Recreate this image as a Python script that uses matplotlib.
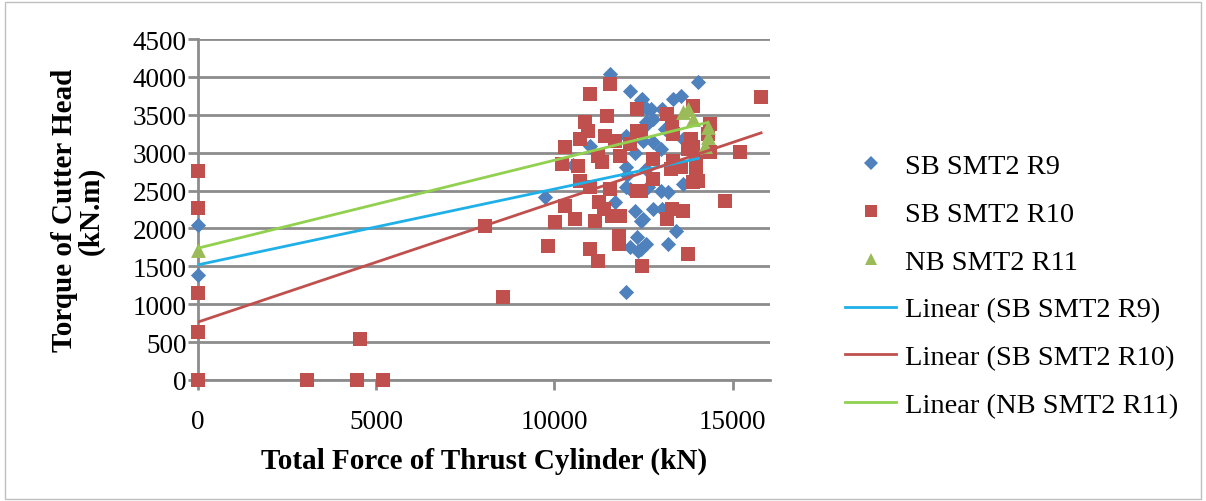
import numpy as np
import matplotlib

matplotlib.use("Agg")
import matplotlib.pyplot as plt
from matplotlib.lines import Line2D
from matplotlib.patches import Rectangle

# SB SMT2 R9 (blue diamonds)
r9_x = [0, 0, 9750, 11570, 12130, 12420, 12610, 12560, 12000, 11010, 10530, 12000,
        14040, 13340, 13540, 12470, 12700, 13030, 12780, 12610, 13230, 12500, 12780,
        12980, 13600, 13090, 12560, 12000, 12130, 11710, 12270, 12420, 12330, 12130,
        12360, 12560, 12640, 12980, 13200, 13620, 12780, 13030, 12500, 13400, 13200,
        12420, 12000, 12250, 12050]
r9_y = [2040, 1390, 2415, 4035, 3810, 3690, 3575, 3400, 3220, 3085, 2835, 2810,
        3930, 3705, 3745, 3705, 3575, 3575, 3445, 3375, 3350, 3155, 3140,
        3050, 3180, 3310, 2780, 2545, 2520, 2350, 2230, 2100, 1885, 1755,
        1700, 1795, 2545, 2495, 2480, 2585, 2255, 2255, 2125, 1965, 1795,
        1730, 1160, 3000, 2700]

# SB SMT2 R10 (red squares)
r10_x = [0, 0, 0, 0, 0, 3050, 4450, 5200, 4550, 8060, 8570, 9830, 10030, 10670,
         11350, 10730, 11010, 11570, 12330, 10310, 11240, 11380, 10590, 11150, 11630,
         11850, 11800, 11010, 11210, 12470, 11570, 11010, 12330, 11490, 10870, 10930,
         11430, 12330, 10730, 11710, 10310, 11210, 11850, 12130, 10220, 15800, 13880,
         13170, 13310, 14380, 13340, 13820, 14300, 13740, 13900, 14380, 15220, 12780,
         13340, 13960, 13260, 13540, 13960, 14040, 13880, 12780, 14800, 13310, 13620,
         13170, 13740, 11800, 12420, 12420]
r10_y = [2760, 2270, 1150, 630, 0, 0, 0, 0, 540, 2030, 1095, 1770, 2085, 2820,
         2875, 2625, 2545, 2520, 2490, 2295, 2350, 2255, 2125, 2100, 2165,
         2165, 1900, 1730, 1570, 1500, 3905, 3775, 3575, 3480, 3400, 3285,
         3220, 3285, 3180, 3150, 3075, 2955, 2955, 3115, 2850, 3730, 3615,
         3510, 3400, 3380, 3245, 3180, 3245, 3050, 3075, 3010, 3010, 2915,
         2890, 2875, 2785, 2810, 2745, 2625, 2610, 2650, 2360, 2255, 2230,
         2125, 1660, 1795, 2495, 3285]

# NB SMT2 R11 (green triangles)
r11_x = [0, 13600, 13740, 13900, 14300, 14300, 14240]
r11_y = [1710, 3535, 3575, 3445, 3340, 3205, 3090]

# linear trendlines (intercept, slope)
trend_r9 = (1520, 0.100)
trend_r10 = (765, 0.158)
trend_r11 = (1740, 0.116)

labels = ["SB SMT2 R9", "SB SMT2 R10", "NB SMT2 R11",
          "Linear (SB SMT2 R9)", "Linear (SB SMT2 R10)", "Linear (NB SMT2 R11)"]

C_R9, C_R10, C_R11 = "#4F81BD", "#C0504D", "#9BBB59"
T_R9, T_R10, T_R11 = "#1FB0E8", "#C0504D", "#92D050"
GRID = "#8C8C8C"

plt.rcParams["font.family"] = ["Liberation Serif", "DejaVu Serif"]

fig = plt.figure(figsize=(12.06, 5.02), dpi=100)
ax = fig.add_axes([198 / 1206, 1 - 381 / 502, (770 - 198) / 1206, (381 - 40) / 502])

ax.scatter(r9_x, r9_y, marker="D", s=60, color=C_R9, zorder=3, linewidths=0, clip_on=False)
ax.scatter(r10_x, r10_y, marker="s", s=100, color=C_R10, zorder=3, linewidths=0, clip_on=False)
ax.scatter(r11_x, r11_y, marker="^", s=115, color=C_R11, zorder=3, linewidths=0, clip_on=False)

for xs, (b, m), c in [(r9_x, trend_r9, T_R9), (r10_x, trend_r10, T_R10), (r11_x, trend_r11, T_R11)]:
    xx = np.array([min(xs), max(xs)])
    ax.plot(xx, b + m * xx, color=c, lw=2, zorder=4)

ax.set_xlim(0, 16050)
ax.set_ylim(0, 4500)
ax.set_xticks([0, 5000, 10000, 15000])
ax.set_yticks(np.arange(0, 4501, 500))
ax.yaxis.grid(True, color=GRID, lw=2)
ax.set_axisbelow(True)
for s in ["top", "right"]:
    ax.spines[s].set_visible(False)
for s in ["left", "bottom"]:
    ax.spines[s].set_color(GRID)
    ax.spines[s].set_linewidth(2)
ax.tick_params(axis="both", colors=GRID, length=7, width=2, labelsize=19.5, labelcolor="black")
ax.tick_params(axis="x", pad=14)
ax.tick_params(axis="y", pad=1)

ax.set_xlabel("Total Force of Thrust Cylinder (kN)", fontsize=21, fontweight="bold", labelpad=9)
ax.set_ylabel("Torque of Cutter Head\n(kN.m)", fontsize=21, fontweight="bold", labelpad=20,
              linespacing=1.0)

handles = [
    Line2D([], [], ls="none", marker="D", ms=7, color=C_R9, mew=0),
    Line2D([], [], ls="none", marker="s", ms=9, color=C_R10, mew=0),
    Line2D([], [], ls="none", marker="^", ms=9, color=C_R11, mew=0),
    Line2D([], [], color=T_R9, lw=2),
    Line2D([], [], color=T_R10, lw=2),
    Line2D([], [], color=T_R11, lw=2),
]
fig.legend(handles, labels, loc="upper left", bbox_to_anchor=(845 / 1206, 1 - 154 / 502),
           frameon=False, fontsize=20.5, handlelength=1.8, handletextpad=0.3,
           labelspacing=0.77, borderpad=0, borderaxespad=0)

fig.add_artist(Rectangle((0.004, 0.004), 0.992, 0.99, transform=fig.transFigure,
                         fill=False, edgecolor="#BFBFBF", lw=1))

fig.savefig("out.png", dpi=100)
